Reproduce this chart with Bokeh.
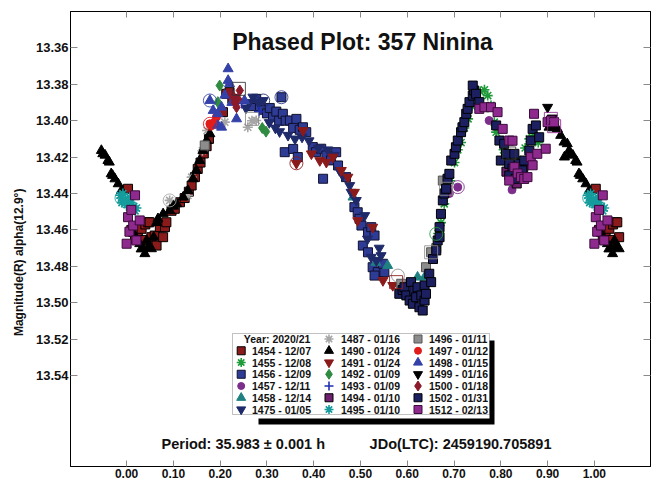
import numpy as np
from bokeh.plotting import figure
from bokeh.models import (Range1d, LinearAxis, FixedTicker, PrintfTickFormatter, Label,
                          BoxAnnotation, ColumnDataSource, CustomJSTickFormatter)
from bokeh.embed import file_html
from bokeh.resources import INLINE

FONT = "Liberation Sans"

# ---------------- data (phase in [0,1), magnitude) ----------------
P1454 = [0.003, 0.010, 0.018, 0.024, 0.032, 0.036, 0.040, 0.046, 0.049, 0.053, 0.060, 0.064, 0.071, 0.078, 0.082, 0.085,
         0.096, 0.103, 0.114, 0.124, 0.133, 0.139, 0.146, 0.152, 0.158, 0.165, 0.171, 0.176, 0.206, 0.213, 0.220, 0.226]
M1454 = [13.4374, 13.4600, 13.4649, 13.4620, 13.4594, 13.4655, 13.4570, 13.4558, 13.4558, 13.4640, 13.4631, 13.4686,
         13.4585, 13.4640, 13.4585, 13.4558, 13.4495, 13.4484, 13.4448, 13.4425, 13.4390, 13.4356, 13.4310, 13.4265,
         13.4230, 13.4180, 13.4140, 13.4100, 13.3953, 13.3852, 13.3843, 13.3880]

P1455 = [0.666, 0.672, 0.679, 0.686, 0.692, 0.701, 0.708, 0.715, 0.722, 0.730, 0.738, 0.746, 0.756, 0.765, 0.772,
         0.779, 0.786, 0.790, 0.798, 0.806, 0.814, 0.825, 0.832, 0.842, 0.852, 0.861, 0.870, 0.880]
M1455 = [13.4620, 13.4560, 13.4457, 13.4380, 13.4330, 13.4230, 13.4160, 13.4120, 13.4040, 13.3990, 13.3920, 13.3860,
         13.3840, 13.3830, 13.3862, 13.3916, 13.4008, 13.4063, 13.4110, 13.4160, 13.4240, 13.4347, 13.4300, 13.4220,
         13.4150, 13.4100, 13.4080, 13.4120]

P1456 = [0.268, 0.277, 0.285, 0.292, 0.300, 0.306, 0.313, 0.320, 0.326, 0.334, 0.340, 0.349, 0.356, 0.363, 0.370,
         0.377, 0.384, 0.338, 0.356, 0.366, 0.398, 0.405, 0.416, 0.420, 0.427, 0.437, 0.448, 0.452, 0.469, 0.487,
         0.494, 0.498, 0.502, 0.516, 0.523, 0.530, 0.505, 0.516, 0.526, 0.537, 0.530, 0.551, 0.548, 0.331]
M1456 = [13.3920, 13.3880, 13.3920, 13.3940, 13.3960, 13.3930, 13.3981, 13.3950, 13.4000, 13.3962, 13.4000, 13.3999,
         13.4040, 13.3990, 13.4050, 13.4036, 13.4063, 13.4173, 13.4155, 13.4200, 13.4145, 13.4173, 13.4154, 13.4319,
         13.4191, 13.4218, 13.4173, 13.4246, 13.4310, 13.4475, 13.4503, 13.4539, 13.4576, 13.4613, 13.4585, 13.4631,
         13.4686, 13.4723, 13.4805, 13.4832, 13.4851, 13.4832, 13.4786, 13.3871]

P1457 = [0.690, 0.708, 0.775, 0.824]
M1457 = [13.4400, 13.4365, 13.3999, 13.4380]

P1458 = [0.484, 0.533, 0.558, 0.622, 0.637]
M1458 = [13.4420, 13.4779, 13.4796, 13.4860, 13.4860]

P1475 = [0.255, 0.262, 0.270, 0.282, 0.292, 0.305, 0.318, 0.327, 0.345, 0.360, 0.375, 0.390, 0.410, 0.430, 0.444,
         0.455, 0.462, 0.477, 0.480, 0.491, 0.509, 0.515, 0.523, 0.534, 0.540, 0.544]
M1475 = [13.3930, 13.3900, 13.3870, 13.3900, 13.3889, 13.4010, 13.4040, 13.4060, 13.4080, 13.4100, 13.4090, 13.4110,
         13.4150, 13.4160, 13.4190, 13.4273, 13.4301, 13.4356, 13.4393, 13.4438, 13.4521, 13.4650, 13.4750, 13.4768,
         13.4700, 13.4741]

P1487 = [0.092, 0.131, 0.139, 0.162, 0.172, 0.210, 0.259, 0.268, 0.277]
M1487 = [13.4438, 13.4411, 13.4310, 13.4165, 13.4054, 13.4008, 13.4036, 13.4000, 13.3999]

P1490 = [0.015, 0.022, 0.028, 0.031, 0.035, 0.039, 0.043, 0.047, 0.053, 0.058, 0.064, 0.067, 0.078, 0.092, 0.100,
         0.107, 0.121, 0.131, 0.142, 0.149, 0.156, 0.163, 0.171, 0.178, 0.903, 0.912, 0.921, 0.928, 0.935, 0.942,
         0.936, 0.946, 0.949, 0.954, 0.960, 0.963, 0.967, 0.970, 0.975, 0.982, 0.989]
M1490 = [13.4620, 13.4660, 13.4676, 13.4705, 13.4700, 13.4731, 13.4658, 13.4690, 13.4704, 13.4640, 13.4560, 13.4539,
         13.4512, 13.4493, 13.4470, 13.4457, 13.4420, 13.4384, 13.4319, 13.4273, 13.4219, 13.4164, 13.4109, 13.4072,
         13.4036, 13.4040, 13.4045, 13.4081, 13.4118, 13.4127, 13.4200, 13.4164, 13.4182, 13.4190, 13.4219, 13.4228,
         13.4292, 13.4301, 13.4320, 13.4347, 13.4384]

P1491 = [0.363, 0.377, 0.395, 0.413, 0.427, 0.441, 0.459, 0.473, 0.487, 0.494, 0.526, 0.548, 0.569]
M1491 = [13.4234, 13.4054, 13.4182, 13.4219, 13.4228, 13.4200, 13.4273, 13.4310, 13.4393, 13.4549, 13.4585, 13.4878,
         13.4905]

P1492 = [0.195, 0.199, 0.290, 0.298]
M1492 = [13.3898, 13.3807, 13.4040, 13.4060]

P1493 = [0.228, 0.246, 0.283]
M1493 = [13.3865, 13.3905, 13.3950]

P1494 = [0.812, 0.834, 0.848]
M1494 = [13.4280, 13.4345, 13.4255]

P1495 = [0.986, 0.989, 0.990, 0.992, 0.994, 0.996, 0.998, 0.000, 0.003, 0.006, 0.007, 0.009, 0.012, 0.015, 0.018, 0.021]
M1495 = [13.4410, 13.4425, 13.4450, 13.4400, 13.4440, 13.4455, 13.4430, 13.4460, 13.4440, 13.4475, 13.4420, 13.4450,
         13.4490, 13.4470, 13.4495, 13.4480]

P1496 = [0.167, 0.587, 0.640, 0.651, 0.662, 0.676, 0.683]
M1496 = [13.4136, 13.4896, 13.4805, 13.4723, 13.4700, 13.4329, 13.4374]

P1497 = [0.178, 0.181, 0.188, 0.192]
M1497 = [13.4017, 13.4027, 13.4008, 13.3980]

P1498 = [0.178, 0.185, 0.195, 0.195, 0.203, 0.203, 0.210, 0.217, 0.217, 0.220, 0.225, 0.235, 0.252]
M1498 = [13.3889, 13.3944, 13.3962, 13.4026, 13.3926, 13.4036, 13.3860, 13.3715, 13.3779, 13.3797, 13.3900, 13.3990,
         13.3889]

P1499 = [0.900, 0.910]
M1499 = [13.3926, 13.3985]

P1500 = [0.224, 0.228, 0.231, 0.235, 0.238, 0.242]
M1500 = [13.3852, 13.3870, 13.3898, 13.3926, 13.3880, 13.3834]

P1502 = [0.583, 0.590, 0.594, 0.598, 0.605, 0.608, 0.612, 0.615, 0.619, 0.622, 0.626, 0.630, 0.633, 0.637, 0.637,
         0.640, 0.647, 0.651, 0.655, 0.662, 0.665, 0.669, 0.669, 0.672, 0.676, 0.679, 0.683, 0.686, 0.690, 0.694,
         0.701, 0.704, 0.708, 0.715, 0.718, 0.722, 0.726, 0.729, 0.733, 0.740, 0.743, 0.740, 0.747, 0.754, 0.790,
         0.797, 0.800, 0.811, 0.807, 0.818, 0.825, 0.829, 0.818, 0.832, 0.839, 0.850, 0.846, 0.861, 0.864, 0.868,
         0.875, 0.882]
M1502 = [13.4951, 13.4930, 13.4915, 13.4960, 13.4988, 13.4887, 13.5006, 13.4934, 13.4970, 13.4915, 13.5025, 13.4960,
         13.5043, 13.4905, 13.4988, 13.4951, 13.4841, 13.4887, 13.4760, 13.4713, 13.4658, 13.4640, 13.4585, 13.4512,
         13.4438, 13.4400, 13.4374, 13.4319, 13.4292, 13.4219, 13.4182, 13.4146, 13.4109, 13.4063, 13.4036, 13.4008,
         13.3962, 13.3935, 13.3898, 13.3862, 13.3834, 13.3807, 13.3852, 13.3898, 13.4026, 13.4109, 13.4219, 13.4182,
         13.4127, 13.4237, 13.4264, 13.4182, 13.4301, 13.4319, 13.4237, 13.4219, 13.4273, 13.4164, 13.4109, 13.4045,
         13.4026, 13.4091]

P1512 = [0.000, 0.003, 0.006, 0.010, 0.014, 0.018, 0.021, 0.028, 0.754, 0.765, 0.779, 0.793, 0.804, 0.818, 0.825,
         0.818, 0.829, 0.836, 0.843, 0.850, 0.857, 0.864, 0.868, 0.871, 0.878, 0.896, 0.900, 0.907, 0.914]
M1512 = [13.4676, 13.4530, 13.4610, 13.4490, 13.4576, 13.4410, 13.4658, 13.4548, 13.3935, 13.3926, 13.3926, 13.3953,
         13.4045, 13.4109, 13.4110, 13.4329, 13.4255, 13.4290, 13.4310, 13.4320, 13.4310, 13.4200, 13.4245, 13.3962,
         13.4182, 13.4154, 13.4008, 13.3999, 13.4008]

# highlighted (ringed) observations: series, phase, magnitude
RING_C_SER = ["1498", "1475", "1456", "1491", "1497", "1487", "1496", "1455", "1495", "1457"]
RING_C_P = [0.178, 0.292, 0.331, 0.363, 0.178, 0.092, 0.580, 0.662, 0.989, 0.708]
RING_C_M = [13.3889, 13.3889, 13.3871, 13.4234, 13.4017, 13.4438, 13.4851, 13.4622, 13.4425, 13.4365]
RING_S_SER = ["1454", "1491", "1496", "1496", "1512", "1512", "1502", "1496"]
RING_S_P = [0.240, 0.576, 0.651, 0.268, 0.907, 0.914, 0.818, 0.683]
RING_S_M = [13.3825, 13.4887, 13.4723, 13.3990, 13.3990, 13.4030, 13.4180, 13.4374]

X_TICKS = [0.0, 0.1, 0.2, 0.3, 0.4, 0.5, 0.6, 0.7, 0.8, 0.9, 1.0]
Y_TICKS = [13.36, 13.38, 13.40, 13.42, 13.44, 13.46, 13.48, 13.50, 13.52, 13.54]

TITLE = "Phased Plot: 357 Ninina"
Y_LABEL = "Magnitude(R) alpha(12.9°)"
PERIOD = "Period: 35.983 ± 0.001 h"
EPOCH = "JDo(LTC): 2459190.705891"
LEGEND_HEAD = "Year: 2020/21"

# ---------------- series styles ----------------
SERIES = [
    ("1454", "1454 - 12/07", P1454, M1454, "square", "#8b1a1a", "black"),
    ("1455", "1455 - 12/08", P1455, M1455, "asterisk", None, "#1f9a3a"),
    ("1456", "1456 - 12/09", P1456, M1456, "square", "#2e3c96", "#10102e"),
    ("1457", "1457 - 12/11", P1457, M1457, "circle", "#7d2d8c", "#7d2d8c"),
    ("1458", "1458 - 12/14", P1458, M1458, "triangle", "#1f8080", "#1f8080"),
    ("1475", "1475 - 01/05", P1475, M1475, "inverted_triangle", "#1f2a6b", "#1f2a6b"),
    ("1487", "1487 - 01/16", P1487, M1487, "asterisk", None, "#a6a6a6"),
    ("1490", "1490 - 01/24", P1490, M1490, "triangle", "black", "black"),
    ("1491", "1491 - 01/24", P1491, M1491, "inverted_triangle", "#8b1a1a", "#8b1a1a"),
    ("1492", "1492 - 01/09", P1492, M1492, "diamond", "#2e8b40", "#2e8b40"),
    ("1493", "1493 - 01/09", P1493, M1493, "cross", None, "#1f2fb0"),
    ("1494", "1494 - 01/10", P1494, M1494, "square", "#6e1f6e", "black"),
    ("1495", "1495 - 01/10", P1495, M1495, "asterisk", None, "#169c9c"),
    ("1496", "1496 - 01/11", P1496, M1496, "square", "#8c8c8c", "#555555"),
    ("1497", "1497 - 01/12", P1497, M1497, "circle", "#e21b1b", "#e21b1b"),
    ("1498", "1498 - 01/15", P1498, M1498, "triangle", "#3441a8", "#3441a8"),
    ("1499", "1499 - 01/16", P1499, M1499, "inverted_triangle", "black", "black"),
    ("1500", "1500 - 01/18", P1500, M1500, "diamond", "#8b1a2a", "#8b1a2a"),
    ("1502", "1502 - 01/31", P1502, M1502, "square", "#1c2060", "black"),
    ("1512", "1512 - 02/13", P1512, M1512, "square", "#8e2a8e", "#3a0a3a"),
]
SIZES = {"square": 9, "asterisk": 10, "circle": 8, "triangle": 10, "inverted_triangle": 10,
         "diamond": 11, "cross": 10}
LEG_SIZES = {"square": 8, "asterisk": 9, "circle": 7, "triangle": 9, "inverted_triangle": 9,
             "diamond": 10, "cross": 9}

WRAP = 0.055


def phased(p, m):
    p = np.asarray(p, float)
    m = np.asarray(m, float)
    lo = p >= 1 - WRAP
    hi = p <= WRAP
    return np.concatenate([p, p[lo] - 1, p[hi] + 1]), np.concatenate([m, m[lo], m[hi]])


# ---------------- figure ----------------
W, H = 652, 481
X0, X1 = -0.12, 1.12
Y0, Y1 = 13.34, 13.59
FL, FT, FW, FH = 70, 11, 580, 455   # frame in page pixels


def mx(px):
    return X0 + (px - FL) / FW * (X1 - X0)


def my(py):
    return Y0 + (py - FT) / FH * (Y1 - Y0)


p = figure(width=W, height=H, output_backend="svg", toolbar_location=None,
           x_range=Range1d(X0, X1), y_range=Range1d(Y1, Y0),
           min_border_left=FL, min_border_right=W - FL - FW, min_border_top=FT,
           min_border_bottom=H - FT - FH)
p.grid.visible = False
p.outline_line_color = "black"
p.background_fill_color = "white"
p.border_fill_color = "white"

BLANK = CustomJSTickFormatter(code="return ''")


def style_axis(ax, ticks, show, size, tin):
    ax.ticker = FixedTicker(ticks=ticks, minor_ticks=[])
    ax.major_tick_in = tin
    ax.major_tick_out = 0
    ax.minor_tick_line_color = None
    ax.major_tick_line_color = "#8a8a8a"
    ax.axis_line_color = "black"
    ax.axis_line_width = 1
    ax.major_label_text_font = FONT
    ax.major_label_text_font_style = "bold"
    ax.major_label_text_color = "#111111"
    if show:
        ax.formatter = PrintfTickFormatter(format="%.2f")
        ax.major_label_text_font_size = size
        ax.major_label_standoff = 2
    else:
        ax.formatter = BLANK
        ax.major_label_text_font_size = "1px"
        ax.major_label_standoff = 0


style_axis(p.xaxis[0], X_TICKS, True, "12px", 6)
style_axis(p.yaxis[0], Y_TICKS, True, "13px", 7)
top_ax = LinearAxis()
style_axis(top_ax, X_TICKS, False, "1px", 6)
p.add_layout(top_ax, "above")
right_ax = LinearAxis()
style_axis(right_ax, Y_TICKS, False, "1px", 7)
p.add_layout(right_ax, "right")

# y axis title, shifted toward the bottom of the frame as in the original
p.yaxis[0].axis_label = Y_LABEL + "\u00a0" * 14
p.yaxis[0].axis_label_text_font = FONT
p.yaxis[0].axis_label_text_font_style = "bold"
p.yaxis[0].axis_label_text_font_size = "12px"
p.yaxis[0].axis_label_text_color = "#111111"
p.yaxis[0].axis_label_standoff = 7

# ---------------- legend frame (under the marks) ----------------
p.add_layout(BoxAnnotation(left=mx(258), right=mx(494), top=my(340), bottom=my(424), level="underlay",
                           fill_color="black", fill_alpha=1, line_color=None))
p.add_layout(BoxAnnotation(left=mx(232), right=mx(489), top=my(333), bottom=my(418), level="underlay",
                           fill_color="white", fill_alpha=1, line_color=None))
p.add_layout(BoxAnnotation(left=mx(232), right=mx(489), top=my(333), bottom=my(414), level="underlay",
                           fill_color=None, fill_alpha=0, line_color="#333333", line_width=1))


def draw(x, y, marker, fill, line, size):
    src = ColumnDataSource(dict(x=x, y=y))
    if marker in ("asterisk", "cross"):
        return p.scatter("x", "y", source=src, marker=marker, size=size, line_color=line, line_width=1.6)
    return p.scatter("x", "y", source=src, marker=marker, size=size,
                     fill_color=fill, line_color=line, line_width=1)


styles = {}
for key, label, ph, mg, marker, fill, line in SERIES:
    x, y = phased(ph, mg)
    draw(x, y, marker, fill, line, SIZES[marker])
    styles[key] = line if fill is None or line == "black" else fill

# rings around highlighted observations
for sers, ph, mg, mk in ((RING_C_SER, RING_C_P, RING_C_M, "circle"),
                         (RING_S_SER, RING_S_P, RING_S_M, "square")):
    for s, a, b in zip(sers, ph, mg):
        x, y = phased([a], [b])
        col = styles[s]
        if col == "black":
            col = "#333333"
        p.scatter(x, y, marker=mk, size=13, fill_color=None, line_color=col, line_width=1, line_alpha=0.85)

# ---------------- legend entries ----------------
ROW0, PITCH = 338.5, 11.75
SW_X = [240.7, 328.5, 417.5]
TX_X = [251.5, 340.5, 428.5]
layout = [(0, k + 1) for k in range(6)] + [(1, k) for k in range(7)] + [(2, k) for k in range(7)]
for (key, label, ph, mg, marker, fill, line), (c, r) in zip(SERIES, layout):
    yy = my(ROW0 + PITCH * r)
    draw([mx(SW_X[c])], [yy], marker, fill, line, LEG_SIZES[marker])
    p.add_layout(Label(x=mx(TX_X[c]), y=yy, text=label, text_font=FONT, text_font_style="bold",
                       text_font_size="10.5px", text_align="left", text_baseline="middle",
                       text_color="#111111"))
p.add_layout(Label(x=mx(243.3), y=my(ROW0), text=LEGEND_HEAD, text_font=FONT, text_font_style="bold",
                   text_font_size="10.5px", text_align="left", text_baseline="middle", text_color="#111111"))

# ---------------- texts ----------------
p.add_layout(Label(x=mx(362), y=my(41.7), text=TITLE, text_font=FONT, text_font_style="bold",
                   text_font_size="23px", text_align="center", text_baseline="alphabetic",
                   text_color="#111111"))
p.add_layout(Label(x=mx(161), y=my(443), text=PERIOD, text_font=FONT, text_font_style="bold",
                   text_font_size="14.5px", text_align="left", text_baseline="middle", text_color="#111111"))
p.add_layout(Label(x=mx(551), y=my(443), text=EPOCH, text_font=FONT, text_font_style="bold",
                   text_font_size="14.5px", text_align="right", text_baseline="middle", text_color="#111111"))

open("out.html", "w").write(file_html(p, INLINE))
